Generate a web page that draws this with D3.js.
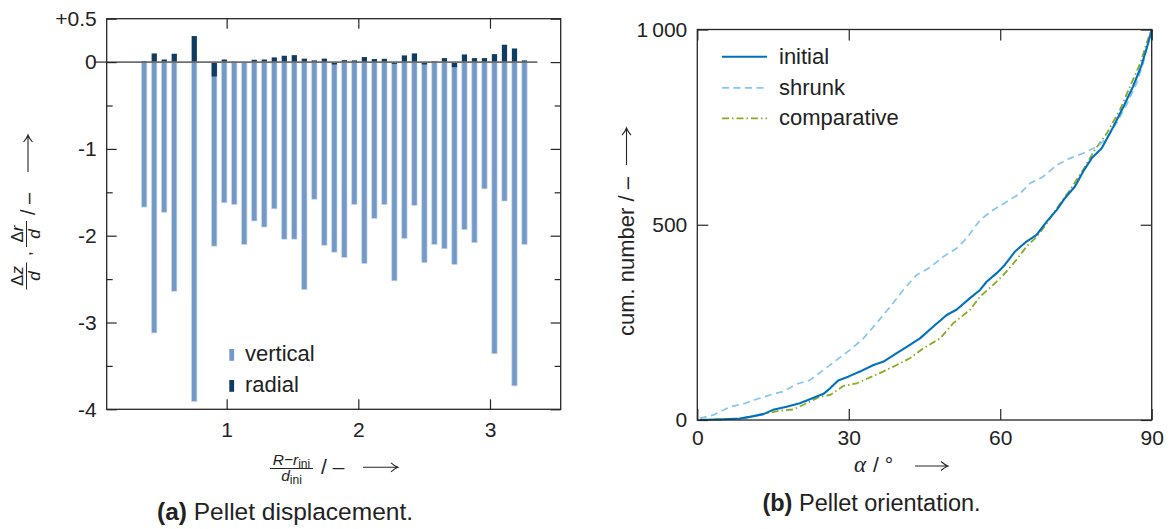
<!DOCTYPE html>
<html>
<head>
<meta charset="utf-8">
<script src="https://cdn.jsdelivr.net/npm/d3@7"></script>
<style>
  body { margin: 0; background: #fff; }
  svg { display: block; font-family: "Liberation Sans", Arial, sans-serif; }
</style>
</head>
<body>
<svg id="fig" width="1172" height="529"></svg>
<script>
// ---------- (a) Pellet displacement ----------
// radial position of each pellet, (R - r_ini) / d_ini
const barPos = [0.374, 0.450, 0.526, 0.602, 0.754, 0.906, 0.982, 1.058, 1.134, 1.210,
                1.286, 1.362, 1.438, 1.514, 1.590, 1.666, 1.742, 1.818, 1.894, 1.970,
                2.046, 2.122, 2.198, 2.274, 2.350, 2.426, 2.502, 2.578, 2.654, 2.730,
                2.806, 2.882, 2.958, 3.034, 3.110, 3.186, 3.262];
// vertical displacement, Δz / d
const verticalDisp = [-1.67, -3.12, -1.73, -2.64, -3.91, -2.12, -1.62, -1.64, -2.10, -1.83,
                      -1.90, -1.69, -2.04, -2.04, -2.62, -1.58, -2.11, -2.19, -2.25, -1.64,
                      -2.32, -1.80, -1.64, -2.52, -2.03, -1.65, -2.31, -2.10, -2.15, -2.33,
                      -1.93, -2.08, -1.46, -3.36, -1.60, -3.73, -2.10];
// radial displacement, Δr / d
const radialDisp = [0.010, 0.100, 0.030, 0.096, 0.300, -0.165, 0.030, 0.005, 0.000, 0.027,
                    0.030, 0.054, 0.073, 0.080, 0.040, 0.020, 0.040, -0.027, 0.023, 0.020,
                    0.058, 0.035, 0.038, -0.020, 0.077, 0.100, -0.027, 0.008, 0.046, -0.058,
                    0.088, 0.046, 0.046, 0.092, 0.200, 0.157, 0.020];
const dispTicks = [-4, -3, -2, -1, 0, 0.5];
const dispTickLabels = ["-4", "-3", "-2", "-1", "0", "+0.5"];
const dispMinorTicks = [-3.5, -2.5, -1.5, -0.5];
const posTicks = [1, 2, 3];
const posTickLabels = ["1", "2", "3"];
const dispLegend = ["vertical", "radial"];

// ---------- (b) Pellet orientation ----------
const initialAlpha = [0.5, 5.1, 8.4, 10.4, 13.1, 15.0, 17.7, 20.3, 22.3, 25.0, 26.3, 27.9, 29.9,
                      32.2, 34.9, 36.8, 39.5, 41.1, 44.1, 46.7, 49.4, 51.4, 54.0, 56.0, 57.3,
                      59.3, 60.9, 62.9, 65.2, 67.2, 69.2, 71.2, 72.8, 74.8, 76.4, 78.1, 80.1,
                      82.4, 84.4, 86.3, 88.0, 89.3, 90.0];
const initialCount = [0, 2, 4, 8, 15, 26, 34, 43, 53, 67, 81, 101, 111,
                      124, 141, 149, 171, 184, 209, 239, 269, 283, 312, 333, 354,
                      376, 397, 431, 457, 474, 508, 538, 568, 598, 636, 670, 696,
                      751, 802, 854, 909, 965, 1000];
const shrunkAlpha = [0.5, 3.2, 6.5, 9.1, 11.7, 14.4, 17.0, 19.7, 22.3, 25.0, 27.6, 30.2, 32.9,
                     35.5, 38.2, 40.8, 43.4, 46.1, 48.7, 51.4, 53.3, 56.0, 58.6, 61.3, 63.9,
                     65.9, 68.5, 71.2, 73.8, 76.4, 79.1, 81.1, 83.0, 85.0, 87.0, 88.3, 89.3, 90.0];
const shrunkCount = [4, 13, 34, 41, 53, 64, 73, 92, 102, 128, 154, 179, 209,
                     248, 290, 333, 371, 391, 418, 440, 465, 512, 538, 559, 580,
                     606, 623, 653, 670, 683, 700, 721, 760, 807, 862, 913, 965, 1000];
const comparativeAlpha = [0.5, 5.1, 8.4, 11.1, 13.7, 16.4, 19.0, 21.7, 24.3, 26.3, 28.9, 31.6,
                          34.2, 36.8, 39.5, 42.1, 44.8, 48.1, 50.7, 54.0, 56.0, 58.6, 60.6,
                          63.2, 65.2, 67.2, 69.2, 71.2, 73.8, 76.4, 78.7, 81.1, 83.7, 85.7,
                          87.7, 89.0, 90.0];
const comparativeCount = [0, 2, 3, 10, 17, 24, 27, 43, 60, 64, 87, 94,
                          109, 124, 141, 158, 184, 209, 248, 282, 316, 346, 371,
                          410, 444, 469, 503, 542, 589, 640, 691, 734, 794, 854,
                          913, 965, 1000];
const seriesNames = ["initial", "shrunk", "comparative"];
const alphaTicks = [0, 30, 60, 90];
const alphaTickLabels = ["0", "30", "60", "90"];
const countTicks = [0, 500, 1000];
const countTickLabels = ["0", "500", "1\u2009000"];

// ---------- styling ----------
const ink = "#262626";
const textInk = "#222";
const tickFont = 21;
const serifFont = '"Liberation Serif", "DejaVu Serif", serif';

const svg = d3.select("#fig");

function arrow(g, x1, x2, y) {
  g.append("path")
    .attr("d", `M${x1},${y}H${x2}M${x2 - 7},${y - 4.5}Q${x2 - 3},${y - 1} ${x2},${y}Q${x2 - 3},${y + 1} ${x2 - 7},${y + 4.5}`)
    .attr("fill", "none").attr("stroke", ink).attr("stroke-width", 1.1);
}

function styleAxis(sel, showText) {
  sel.select(".domain").remove();
  sel.selectAll(".tick line").attr("stroke", ink).attr("stroke-width", 1.2);
  if (showText) {
    sel.selectAll(".tick text").attr("fill", textInk).style("font-size", tickFont + "px")
      .style("font-family", '"Liberation Sans", Arial, sans-serif');
  } else {
    sel.selectAll(".tick text").remove();
  }
}

// =============== panel (a) ===============
const ax = d3.scaleLinear().domain([0.089, 3.537]).range([106.7, 560.7]);
const ay = d3.scaleLinear().domain([-4, 0.5]).range([409.3, 18.7]);
const gA = svg.append("g");
const bw = ax(0.04) - ax(0);
const idx = d3.range(barPos.length);

// vertical displacement bars
gA.append("g").selectAll("rect").data(idx).join("rect")
  .attr("x", i => ax(barPos[i]) - bw / 2)
  .attr("width", bw)
  .attr("y", i => ay(Math.max(0, verticalDisp[i])))
  .attr("height", i => Math.abs(ay(verticalDisp[i]) - ay(0)))
  .attr("fill", "#7399c6")
  .attr("stroke", "#c3d4ea").attr("stroke-width", 0.7);

// radial displacement bars, drawn over the vertical ones
gA.append("g").selectAll("rect").data(idx).join("rect")
  .attr("x", i => ax(barPos[i]) - bw / 2)
  .attr("width", bw)
  .attr("y", i => ay(Math.max(0, radialDisp[i])))
  .attr("height", i => Math.abs(ay(radialDisp[i]) - ay(0)))
  .attr("fill", "#0f3d62");

// zero reference line
gA.append("line")
  .attr("x1", ax(0)).attr("x2", ax(3.36))
  .attr("y1", ay(0)).attr("y2", ay(0))
  .attr("stroke", "#6e6e6e").attr("stroke-width", 1.6);

// axes (ticks point inward, mirrored on opposite sides)
const [axL, axR] = ax.range();
const [ayB, ayT] = ay.range();
gA.append("g").attr("transform", `translate(${axL},0)`)
  .call(d3.axisLeft(ay).tickValues(dispTicks).tickFormat((d, i) => dispTickLabels[i]).tickSize(-10).tickPadding(10))
  .call(s => styleAxis(s, true));
gA.append("g").attr("transform", `translate(${axL},0)`)
  .call(d3.axisLeft(ay).tickValues(dispMinorTicks).tickSize(-6))
  .call(s => styleAxis(s, false));
gA.append("g").attr("transform", `translate(${axR},0)`)
  .call(d3.axisRight(ay).tickValues(dispTicks).tickSize(-10))
  .call(s => styleAxis(s, false));
gA.append("g").attr("transform", `translate(${axR},0)`)
  .call(d3.axisRight(ay).tickValues(dispMinorTicks).tickSize(-6))
  .call(s => styleAxis(s, false));
gA.append("g").attr("transform", `translate(0,${ayB})`)
  .call(d3.axisBottom(ax).tickValues(posTicks).tickFormat((d, i) => posTickLabels[i]).tickSize(-10).tickPadding(13))
  .call(s => styleAxis(s, true));
gA.append("g").attr("transform", `translate(0,${ayT})`)
  .call(d3.axisTop(ax).tickValues(posTicks).tickSize(-10))
  .call(s => styleAxis(s, false));
gA.append("rect")
  .attr("x", axL).attr("y", ayT).attr("width", axR - axL).attr("height", ayB - ayT)
  .attr("fill", "none").attr("stroke", ink).attr("stroke-width", 1.3);

// legend
const legA = gA.append("g");
[["#7399c6", 349, 360.5], ["#0f3d62", 380, 391.5]].forEach(([c, y, base], i) => {
  legA.append("rect").attr("x", 229.3).attr("y", y).attr("width", 4.8).attr("height", 11.8).attr("fill", c);
  legA.append("text").attr("x", 245).attr("y", base).attr("fill", textInk)
    .style("font-size", "22px").text(dispLegend[i]);
});

// y label:  Δz/d , Δr/d / –  →
const ylabA = gA.append("g").attr("transform", "translate(0,291) rotate(-90)");
function frac(g, cx, numItalic, den, width) {
  const t = g.append("text").attr("x", cx).attr("y", 22.5).attr("text-anchor", "middle")
    .attr("fill", textInk).style("font-size", "17px");
  t.append("tspan").text("Δ");
  t.append("tspan").style("font-style", "italic").text(numItalic);
  g.append("line").attr("x1", cx - width / 2).attr("x2", cx + width / 2)
    .attr("y1", 26.5).attr("y2", 26.5).attr("stroke", ink).attr("stroke-width", 1);
  g.append("text").attr("x", cx).attr("y", 40).attr("text-anchor", "middle")
    .attr("fill", textInk).style("font-size", "17px").style("font-style", "italic").text(den);
}
frac(ylabA, 15, "z", "d", 27);
ylabA.append("text").attr("x", 35).attr("y", 31).attr("fill", textInk).style("font-size", "17px").text(",");
frac(ylabA, 57, "r", "d", 26);
ylabA.append("text").attr("x", 76).attr("y", 35).attr("fill", textInk).style("font-size", "20px").text("/ –");
arrow(ylabA, 119, 156, 28);

// x label:  (R − r_ini) / d_ini  / –  →
const xlabA = gA.append("g");
const num = xlabA.append("text").attr("x", 291.5).attr("y", 465).attr("text-anchor", "middle")
  .attr("fill", textInk).style("font-size", "15.5px");
num.append("tspan").style("font-style", "italic").text("R");
num.append("tspan").text("−");
num.append("tspan").style("font-style", "italic").text("r");
num.append("tspan").attr("dy", 3).style("font-size", "12px").text("ini");
xlabA.append("line").attr("x1", 270).attr("x2", 313).attr("y1", 468.5).attr("y2", 468.5)
  .attr("stroke", ink).attr("stroke-width", 1);
const den = xlabA.append("text").attr("x", 291.5).attr("y", 480.5).attr("text-anchor", "middle")
  .attr("fill", textInk).style("font-size", "15.5px");
den.append("tspan").style("font-style", "italic").text("d");
den.append("tspan").attr("dy", 3).style("font-size", "12px").text("ini");
xlabA.append("text").attr("x", 321).attr("y", 474).attr("fill", textInk).style("font-size", "21px").text("/ –");
arrow(xlabA, 363, 398, 467.3);

// caption
const capA = gA.append("text").attr("x", 285).attr("y", 520).attr("text-anchor", "middle")
  .attr("fill", textInk).style("font-size", "24.5px");
capA.append("tspan").style("font-weight", "bold").text("(a)");
capA.append("tspan").text(" Pellet displacement.");

// =============== panel (b) ===============
const bx = d3.scaleLinear().domain([0, 90]).range([697.3, 1151.7]);
const by = d3.scaleLinear().domain([0, 1000]).range([420, 29.5]);
const gB = svg.append("g");
const [bxL, bxR] = bx.range();
const [byB, byT] = by.range();

const series = [
  { name: seriesNames[0], a: initialAlpha, c: initialCount, color: "#0072bd", w: 2.1, dash: null },
  { name: seriesNames[1], a: shrunkAlpha, c: shrunkCount, color: "#85c6ee", w: 1.7, dash: "7,4.5" },
  { name: seriesNames[2], a: comparativeAlpha, c: comparativeCount, color: "#8aab22", w: 1.8, dash: "7,3,1.5,3" }
];
const line = d3.line().x(d => bx(d[0])).y(d => by(d[1]));

// draw comparative and shrunk beneath the initial curve
[series[2], series[1], series[0]].forEach(s => {
  gB.append("path")
    .datum(s.a.map((v, i) => [v, s.c[i]]))
    .attr("d", line)
    .attr("fill", "none")
    .attr("stroke", s.color)
    .attr("stroke-width", s.w)
    .attr("stroke-linejoin", "round")
    .attr("stroke-dasharray", s.dash);
});

gB.append("g").attr("transform", `translate(${bxL},0)`)
  .call(d3.axisLeft(by).tickValues(countTicks).tickFormat((d, i) => countTickLabels[i]).tickSize(-11).tickPadding(10))
  .call(s => styleAxis(s, true));
gB.append("g").attr("transform", `translate(${bxR},0)`)
  .call(d3.axisRight(by).tickValues(countTicks).tickSize(-11))
  .call(s => styleAxis(s, false));
gB.append("g").attr("transform", `translate(0,${byB})`)
  .call(d3.axisBottom(bx).tickValues(alphaTicks).tickFormat((d, i) => alphaTickLabels[i]).tickSize(-11).tickPadding(10))
  .call(s => styleAxis(s, true));
gB.append("g").attr("transform", `translate(0,${byT})`)
  .call(d3.axisTop(bx).tickValues(alphaTicks).tickSize(-11))
  .call(s => styleAxis(s, false));
gB.append("rect")
  .attr("x", bxL).attr("y", byT).attr("width", bxR - bxL).attr("height", byB - byT)
  .attr("fill", "none").attr("stroke", ink).attr("stroke-width", 1.3);

// legend
const legB = gB.append("g");
[[56.7, 63.5], [87.8, 94.5], [118.3, 125]].forEach(([y, base], i) => {
  const s = series[i];
  legB.append("line").attr("x1", 722).attr("x2", 767).attr("y1", y).attr("y2", y)
    .attr("stroke", s.color).attr("stroke-width", s.w).attr("stroke-dasharray", s.dash);
  legB.append("text").attr("x", 779).attr("y", base).attr("fill", textInk)
    .style("font-size", "22px").text(s.name);
});

// y label: cum. number / –  →
const ylabB = gB.append("g").attr("transform", "translate(634,336) rotate(-90)");
const ylabText = ylabB.append("text").attr("x", 0).attr("y", 0).attr("fill", textInk)
  .style("font-size", "22px").text("cum. number / –");
const ylw = ylabText.node().getComputedTextLength();
arrow(ylabB, ylw + 12, ylw + 49, -7.5);

// x label: α / °  →
const xlabB = gB.append("g");
xlabB.append("text").attr("x", 854).attr("y", 472).attr("fill", textInk)
  .style("font-family", serifFont).style("font-style", "italic").style("font-size", "23px").text("α");
xlabB.append("text").attr("x", 873).attr("y", 472).attr("fill", textInk)
  .style("font-size", "21px").text("/ °");
arrow(xlabB, 915, 948, 466);

// caption
const capB = gB.append("text").attr("x", 871.5).attr("y", 511).attr("text-anchor", "middle")
  .attr("fill", textInk).style("font-size", "23.5px");
capB.append("tspan").style("font-weight", "bold").text("(b)");
capB.append("tspan").text(" Pellet orientation.");
</script>
</body>
</html>
